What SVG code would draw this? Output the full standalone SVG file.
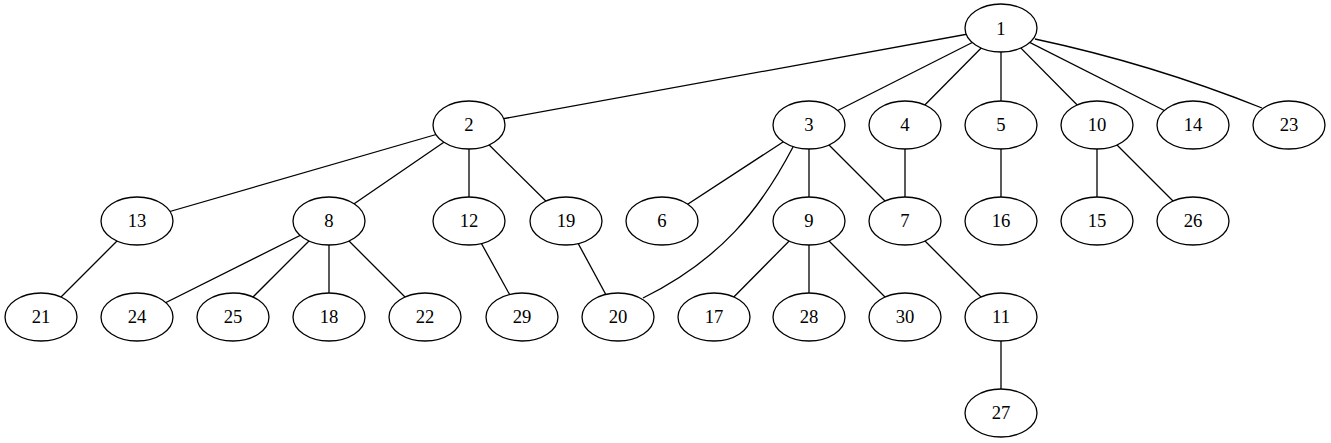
<svg xmlns="http://www.w3.org/2000/svg" width="1331" height="443" viewBox="0 0 1331 443">
<style>
.n ellipse{fill:#fff;stroke:#000;stroke-width:1.3}
.n text{font-family:"Liberation Serif",serif;font-size:18.67px;text-anchor:middle;fill:#000}
#edges path,#edges line{stroke:#000;stroke-width:1.3;fill:none}
</style>
<rect width="1331" height="443" fill="#fff"/>
<g id="edges">
<line x1="1001" y1="28" x2="469" y2="125"/>
<line x1="1001" y1="28" x2="809" y2="125"/>
<line x1="1001" y1="28" x2="905" y2="125"/>
<line x1="1001" y1="28" x2="1001" y2="125"/>
<line x1="1001" y1="28" x2="1097" y2="125"/>
<line x1="1001" y1="28" x2="1193" y2="125"/>
<path d="M1035,39 Q1152,64 1262,108"/>
<line x1="469" y1="125" x2="137" y2="221"/>
<line x1="469" y1="125" x2="329" y2="221"/>
<line x1="469" y1="125" x2="469" y2="221"/>
<line x1="469" y1="125" x2="566" y2="221"/>
<line x1="809" y1="125" x2="662" y2="221"/>
<path d="M793,147 C760,210 720,260 643,298"/>
<line x1="809" y1="125" x2="809" y2="221"/>
<line x1="809" y1="125" x2="905" y2="221"/>
<line x1="905" y1="125" x2="905" y2="221"/>
<line x1="1001" y1="125" x2="1001" y2="221"/>
<line x1="1097" y1="125" x2="1097" y2="221"/>
<line x1="1097" y1="125" x2="1193" y2="221"/>
<line x1="137" y1="221" x2="41" y2="317"/>
<line x1="329" y1="221" x2="137" y2="317"/>
<line x1="329" y1="221" x2="233" y2="317"/>
<line x1="329" y1="221" x2="329" y2="317"/>
<line x1="329" y1="221" x2="425" y2="317"/>
<line x1="469" y1="221" x2="522" y2="317"/>
<line x1="566" y1="221" x2="618" y2="317"/>
<line x1="809" y1="221" x2="714" y2="317"/>
<line x1="809" y1="221" x2="809" y2="317"/>
<line x1="809" y1="221" x2="905" y2="317"/>
<line x1="905" y1="221" x2="1001" y2="317"/>
<line x1="1001" y1="317" x2="1001" y2="413"/>
</g>
<g id="n1" class="n"><ellipse cx="1001" cy="28" rx="36" ry="24"/><text x="1001" y="34.5">1</text></g>
<g id="n2" class="n"><ellipse cx="469" cy="125" rx="36" ry="24"/><text x="469" y="131">2</text></g>
<g id="n3" class="n"><ellipse cx="809" cy="125" rx="36" ry="24"/><text x="809" y="131">3</text></g>
<g id="n4" class="n"><ellipse cx="905" cy="125" rx="36" ry="24"/><text x="905" y="131">4</text></g>
<g id="n5" class="n"><ellipse cx="1001" cy="125" rx="36" ry="24"/><text x="1001" y="131">5</text></g>
<g id="n10" class="n"><ellipse cx="1097" cy="125" rx="36" ry="24"/><text x="1097" y="131">10</text></g>
<g id="n14" class="n"><ellipse cx="1193" cy="125" rx="36" ry="24"/><text x="1193" y="131">14</text></g>
<g id="n23" class="n"><ellipse cx="1289" cy="125" rx="36" ry="24"/><text x="1289" y="131">23</text></g>
<g id="n13" class="n"><ellipse cx="137" cy="221" rx="36" ry="24"/><text x="137" y="227">13</text></g>
<g id="n8" class="n"><ellipse cx="329" cy="221" rx="36" ry="24"/><text x="329" y="227">8</text></g>
<g id="n12" class="n"><ellipse cx="469" cy="221" rx="36" ry="24"/><text x="469" y="227">12</text></g>
<g id="n19" class="n"><ellipse cx="566" cy="221" rx="36" ry="24"/><text x="566" y="227">19</text></g>
<g id="n6" class="n"><ellipse cx="662" cy="221" rx="36" ry="24"/><text x="662" y="227">6</text></g>
<g id="n9" class="n"><ellipse cx="809" cy="221" rx="36" ry="24"/><text x="809" y="227">9</text></g>
<g id="n7" class="n"><ellipse cx="905" cy="221" rx="36" ry="24"/><text x="905" y="227">7</text></g>
<g id="n16" class="n"><ellipse cx="1001" cy="221" rx="36" ry="24"/><text x="1001" y="227">16</text></g>
<g id="n15" class="n"><ellipse cx="1097" cy="221" rx="36" ry="24"/><text x="1097" y="227">15</text></g>
<g id="n26" class="n"><ellipse cx="1193" cy="221" rx="36" ry="24"/><text x="1193" y="227">26</text></g>
<g id="n21" class="n"><ellipse cx="41" cy="317" rx="36" ry="24"/><text x="41" y="323">21</text></g>
<g id="n24" class="n"><ellipse cx="137" cy="317" rx="36" ry="24"/><text x="137" y="323">24</text></g>
<g id="n25" class="n"><ellipse cx="233" cy="317" rx="36" ry="24"/><text x="233" y="323">25</text></g>
<g id="n18" class="n"><ellipse cx="329" cy="317" rx="36" ry="24"/><text x="329" y="323">18</text></g>
<g id="n22" class="n"><ellipse cx="425" cy="317" rx="36" ry="24"/><text x="425" y="323">22</text></g>
<g id="n29" class="n"><ellipse cx="522" cy="317" rx="36" ry="24"/><text x="522" y="323">29</text></g>
<g id="n20" class="n"><ellipse cx="618" cy="317" rx="36" ry="24"/><text x="618" y="323">20</text></g>
<g id="n17" class="n"><ellipse cx="714" cy="317" rx="36" ry="24"/><text x="714" y="323">17</text></g>
<g id="n28" class="n"><ellipse cx="809" cy="317" rx="36" ry="24"/><text x="809" y="323">28</text></g>
<g id="n30" class="n"><ellipse cx="905" cy="317" rx="36" ry="24"/><text x="905" y="323">30</text></g>
<g id="n11" class="n"><ellipse cx="1001" cy="317" rx="36" ry="24"/><text x="1001" y="323">11</text></g>
<g id="n27" class="n"><ellipse cx="1001" cy="413" rx="36" ry="24"/><text x="1001" y="419">27</text></g>
</svg>
